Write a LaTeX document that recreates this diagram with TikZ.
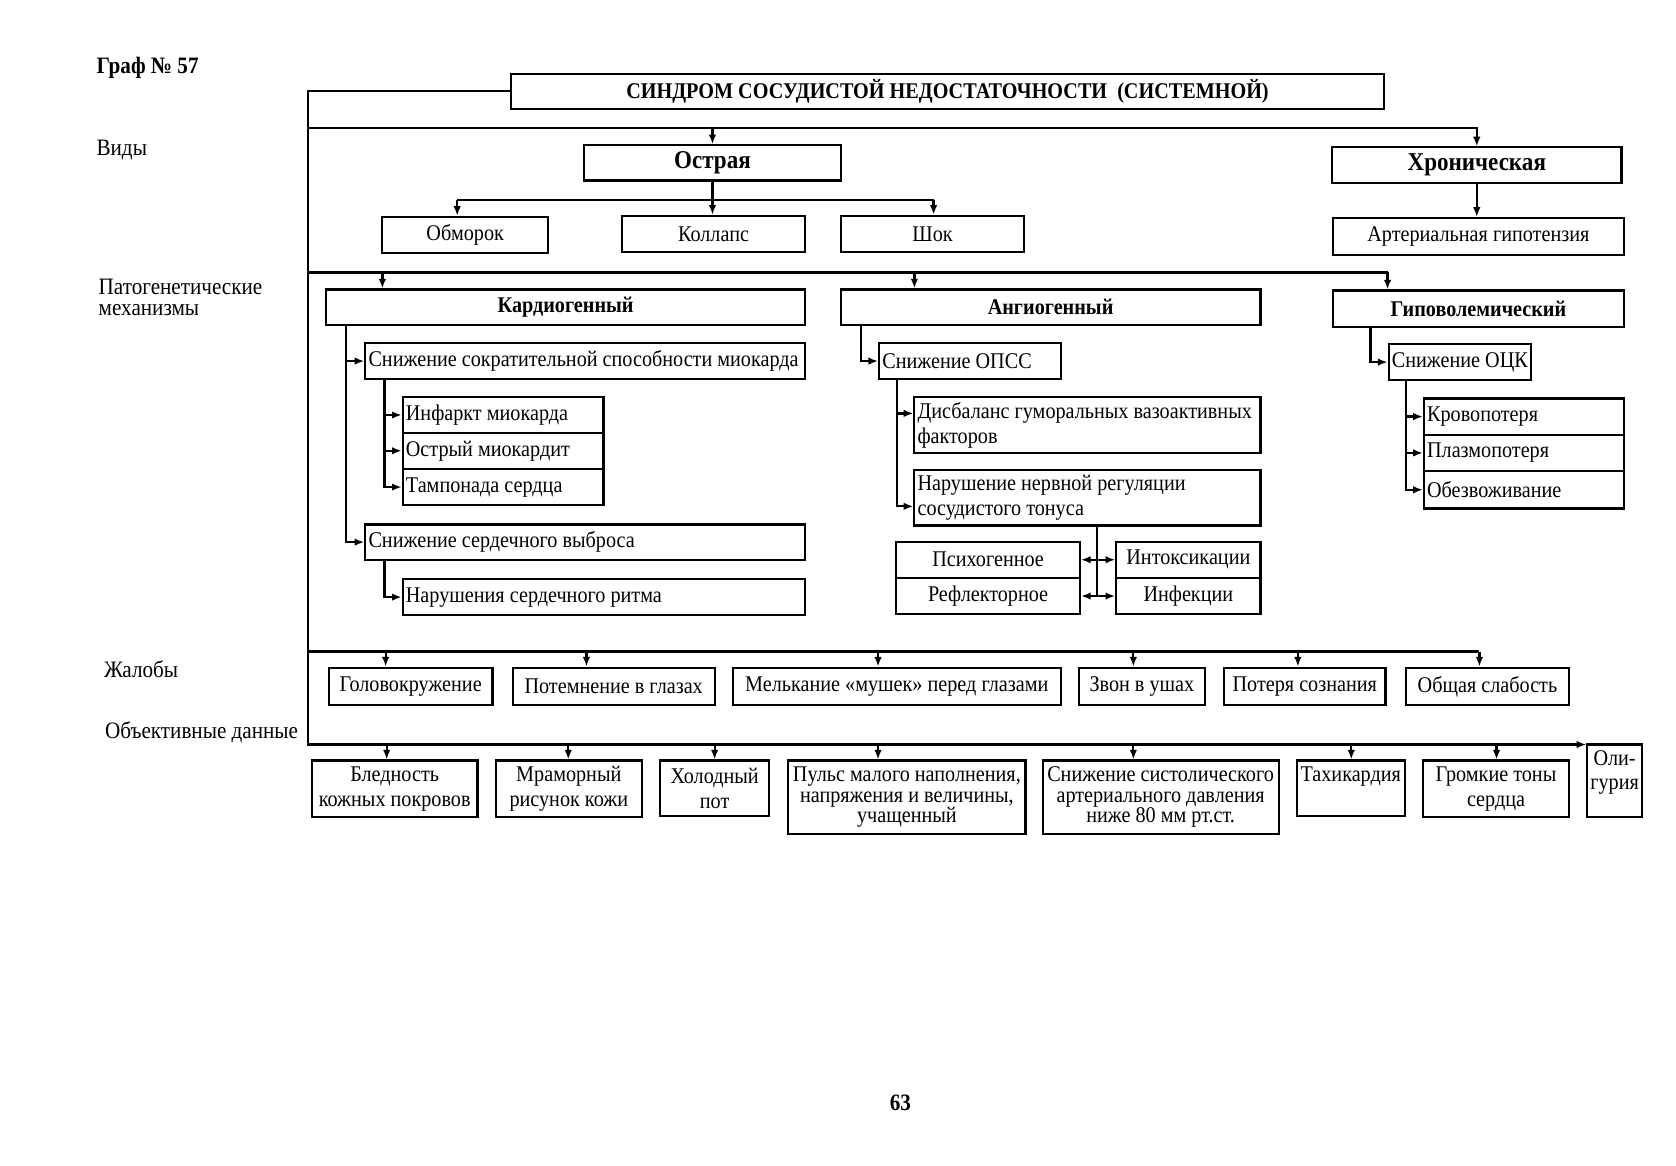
\documentclass[tikz,border=0pt]{standalone}
\usepackage{fontspec}
\setmainfont{Liberation Serif}[FakeStretch=0.9]
\usetikzlibrary{arrows.meta}
\newcommand\fnorm{\fontsize{10.5}{11.5}\selectfont}
\newcommand\fthree{\fontsize{10.5}{9.6}\selectfont}
\newcommand\fbold{\fontsize{10.5}{11.5}\selectfont\bfseries}
\newcommand\fbig{\fontsize{12}{13}\selectfont\bfseries}
\newcommand\ftitle{\fontsize{10.5}{12}\selectfont\bfseries}
\newcommand\flab{\fontsize{11}{9.5}\selectfont}
\newcommand\lline[2]{\makebox[#1][l]{#2}}
\begin{document}
\begin{tikzpicture}[x=0.5pt,y=-0.5pt,
  every node/.style={font=\fnorm},
  box/.style={draw, line width=1pt, inner sep=1.5pt, align=center},
  lbox/.style={box, align=left},
  ln/.style={line width=1.05pt},
  arr/.style={ln, -{Latex[length=4.5pt,width=3.5pt]}},
  lab/.style={font=\flab, anchor=base west, inner sep=0pt, align=left},
]
\useasboundingbox (0,0) rectangle (1569,1091);

% left labels
\node[lab, font=\flab\bfseries] (graf) at (90,69) {Граф №~57};
\node[lab] (vidy) at (90,146) {Виды};
\node[lab] (pato) at (92,295) {Патогенетические\\механизмы};
\node[lab] (zhal) at (97,634) {Жалобы};
\node[lab] (obj) at (98,691) {Объективные данные};
\node[font=\flab\bfseries] (page) at (843,1032) {63};

% top
\node[box, font=\ftitle, minimum width=409pt, minimum height=16.5pt] (title) at (887,85.5) {СИНДРОМ СОСУДИСТОЙ НЕДОСТАТОЧНОСТИ~ (СИСТЕМНОЙ)};
\node[box, font=\fbig, minimum width=120pt, minimum height=16.5pt] (ostr) at (667,152.5) {Острая};
\node[box, font=\fbig, minimum width=135.5pt, minimum height=16.5pt] (chron) at (1382.5,154.5) {Хроническая};
\node[box, minimum width=77.5pt, minimum height=17pt] (obm) at (435.5,220) {Обморок};
\node[box, minimum width=86pt, minimum height=17pt] (koll) at (668,219) {Коллапс};
\node[box, minimum width=86pt, minimum height=17pt] (shok) at (873,219) {Шок};
\node[box, minimum width=136pt, minimum height=17.5pt] (arth) at (1384,221.5) {Артериальная гипотензия};

% mechanisms
\node[box, font=\fbold, minimum width=224.5pt, minimum height=16.5pt] (kard) at (529.5,287.5) {Кардиогенный};
\node[box, font=\fbold, minimum width=196.5pt, minimum height=16.5pt] (angio) at (983.5,287.5) {Ангиогенный};
\node[box, font=\fbold, minimum width=136pt, minimum height=17pt] (hypo) at (1384,289) {Гиповолемический};

% cardiogenic
\node[lbox, minimum height=17pt] (snsok) at (548,338) {\lline{203pt}{Снижение сократительной способности миокарда}};
\node[lbox, minimum height=16.5pt] (inf) at (471,388.5) {\lline{91pt}{Инфаркт миокарда}};
\node[lbox, minimum height=17pt] (omio) at (471,422) {\lline{91pt}{Острый миокардит}};
\node[lbox, minimum height=17pt] (tamp) at (471,456) {\lline{91pt}{Тампонада сердца}};
\node[lbox, minimum height=16.5pt] (snvyb) at (548,507.5) {\lline{203pt}{Снижение сердечного выброса}};
\node[lbox, minimum height=17pt] (ritm) at (565.5,559) {\lline{185.5pt}{Нарушения сердечного ритма}};

% angiogenic
\node[lbox, minimum height=17pt] (opss) at (908,338) {\lline{82pt}{Снижение ОПСС}};
\node[lbox, minimum height=26pt] (disb) at (1018,398) {\lline{159pt}{Дисбаланс гуморальных вазоактивных}\\\lline{159pt}{факторов}};
\node[lbox, minimum height=26pt] (nerv) at (1018,466) {\lline{159pt}{Нарушение нервной регуляции}\\\lline{159pt}{сосудистого тонуса}};
\node[box, minimum width=86pt, minimum height=17pt] (psy) at (925,524) {Психогенное};
\node[box, minimum width=86pt, minimum height=17pt] (refl) at (925,558) {Рефлекторное};
\node[box, minimum width=67.5pt, minimum height=17pt] (intox) at (1112.5,524) {Интоксикации};
\node[box, minimum width=67.5pt, minimum height=17pt] (infek) at (1112.5,558) {Инфекции};

% hypovolemic
\node[lbox, minimum height=17pt] (ock) at (1366.5,339) {\lline{63.5pt}{Снижение ОЦК}};
\node[lbox, minimum height=17pt] (krov) at (1426.5,390) {\lline{90.5pt}{Кровопотеря}};
\node[lbox, minimum height=17pt] (plaz) at (1426.5,424) {\lline{90.5pt}{Плазмопотеря}};
\node[lbox, minimum height=17.5pt] (obez) at (1426.5,458.5) {\lline{90.5pt}{Обезвоживание}};

% complaints
\node[box, minimum width=76.5pt, minimum height=17.5pt] (c1) at (384.5,642.5) {Головокружение};
\node[box, minimum width=94.5pt, minimum height=17.5pt] (c2) at (574.5,642.5) {Потемнение в глазах};
\node[box, minimum width=153.5pt, minimum height=17.5pt] (c3) at (839.5,642.5) {Мелькание «мушек» перед глазами};
\node[box, minimum width=59pt, minimum height=17.5pt] (c4) at (1069,642.5) {Звон в ушах};
\node[box, minimum width=75.5pt, minimum height=17.5pt] (c5) at (1221.5,642.5) {Потеря сознания};
\node[box, minimum width=76.5pt, minimum height=17.5pt] (c6) at (1392.5,642.5) {Общая слабость};

% objective data
\node[box, minimum width=77.5pt, minimum height=26.5pt] (d1) at (369.5,738.5) {Бледность\\кожных покровов};
\node[box, minimum width=68.5pt, minimum height=26.5pt] (d2) at (532.5,738.5) {Мраморный\\рисунок кожи};
\node[box, minimum width=51pt, minimum height=26pt] (d3) at (669,738) {Холодный\\пот};
\node[box, font=\fthree, minimum width=111pt, minimum height=34.5pt] (d4) at (849,746.5) {Пульс малого наполнения,\\напряжения и величины,\\учащенный};
\node[box, font=\fthree, minimum width=110.5pt, minimum height=34.5pt] (d5) at (1086.5,746.5) {Снижение систолического\\артериального давления\\ниже 80 мм рт.ст.};
\node[box, minimum width=50.5pt, minimum height=26pt] (d6) at (1264.5,738) {};
\node[anchor=north, inner sep=0pt] (d6t) at ([yshift=-3pt]d6.north) {Тахикардия};
\node[box, minimum width=68.5pt, minimum height=26.5pt] (d7) at (1400.5,738.5) {Громкие тоны\\сердца};
\node[box, minimum width=25.5pt, minimum height=34pt] (d8) at (1511.5,731) {};
\node[anchor=north, inner sep=0pt, align=center] (d8t) at ([yshift=-3pt]d8.north) {Оли-\\гурия};

% ---------- connectors ----------
\coordinate (t0) at (288,85.5);
\coordinate (t1) at (288,120);
\coordinate (t2) at (288,255);
\coordinate (t3) at (288,610);
\coordinate (t4) at (288,697);

\draw[arr] (title.west) -- (t0) -- (t4) -- (d8.west |- t4);

% kinds
\draw[arr] (t1) -| (chron.north);
\draw[arr] (ostr.north |- t1) -- (ostr.north);
\draw[arr] (ostr.south) -- (ostr.south |- koll.north);
\coordinate (o2) at (428,187);
\coordinate (o3) at (874,187);
\draw[ln] (o2) -- (o3);
\draw[arr] (o2) -- (o2 |- obm.north);
\draw[arr] (o3) -- (o3 |- shok.north);
\draw[arr] (chron.south) -- (chron.south |- arth.north);

% mechanisms
\coordinate (k1) at (358,255);
\coordinate (k2) at (856,255);
\coordinate (k3) at (1299,255);
\draw[ln] (t2) -- (k3);
\draw[arr] (k1) -- (k1 |- kard.north);
\draw[arr] (k2) -- (k2 |- angio.north);
\draw[arr] (k3) -- (k3 |- hypo.north);

% cardiogenic
\coordinate (cv) at (324,0);
\coordinate (cv2) at (360,0);
\draw[arr] (kard.south -| cv) |- (snsok.west);
\draw[arr] (kard.south -| cv) |- (snvyb.west);
\draw[arr] (snsok.south -| cv2) |- (inf.west);
\draw[arr] (snsok.south -| cv2) |- (omio.west);
\draw[arr] (snsok.south -| cv2) |- (tamp.west);
\draw[arr] (snvyb.south -| cv2) |- (ritm.west);

% angiogenic
\coordinate (av) at (806,0);
\coordinate (av2) at (840,0);
\coordinate (av3) at (1027,0);
\draw[arr] (angio.south -| av) |- (opss.west);
\draw[arr] (opss.south -| av2) |- ([yshift=5.5pt]disb.west);
\draw[arr] (opss.south -| av2) |- ([yshift=-4pt]nerv.west);
\draw[ln] (nerv.south -| av3) -- (av3 |- refl.east);
\draw[arr] (av3 |- psy.east) -- (psy.east);
\draw[arr] (av3 |- psy.east) -- (intox.west);
\draw[arr] (av3 |- refl.east) -- (refl.east);
\draw[arr] (av3 |- refl.east) -- (infek.west);

% hypovolemic
\coordinate (hv) at (1283,0);
\coordinate (hv2) at (1316,0);
\draw[arr] (hypo.south -| hv) |- (ock.west);
\draw[arr] (ock.south -| hv2) |- (krov.west);
\draw[arr] (ock.south -| hv2) |- (plaz.west);
\draw[arr] (ock.south -| hv2) |- (obez.west);

% complaints
\coordinate (p1) at (361,610);
\coordinate (p2) at (549,610);
\coordinate (p3) at (822,610);
\coordinate (p4) at (1061,610);
\coordinate (p5) at (1215,610);
\coordinate (p6) at (1385,610);
\draw[ln] (t3) -- (p6);
\draw[arr] (p1) -- (p1 |- c1.north);
\draw[arr] (p2) -- (p2 |- c2.north);
\draw[arr] (p3) -- (p3 |- c3.north);
\draw[arr] (p4) -- (p4 |- c4.north);
\draw[arr] (p5) -- (p5 |- c5.north);
\draw[arr] (p6) -- (p6 |- c6.north);

% objective
\coordinate (q1) at (362,697);
\coordinate (q2) at (532,697);
\coordinate (q3) at (669,697);
\coordinate (q4) at (822,697);
\coordinate (q5) at (1061,697);
\coordinate (q6) at (1265,697);
\coordinate (q7) at (1401,697);
\draw[arr] (q1) -- (q1 |- d1.north);
\draw[arr] (q2) -- (q2 |- d2.north);
\draw[arr] (q3) -- (q3 |- d3.north);
\draw[arr] (q4) -- (q4 |- d4.north);
\draw[arr] (q5) -- (q5 |- d5.north);
\draw[arr] (q6) -- (q6 |- d6.north);
\draw[arr] (q7) -- (q7 |- d7.north);
\end{tikzpicture}
\end{document}
